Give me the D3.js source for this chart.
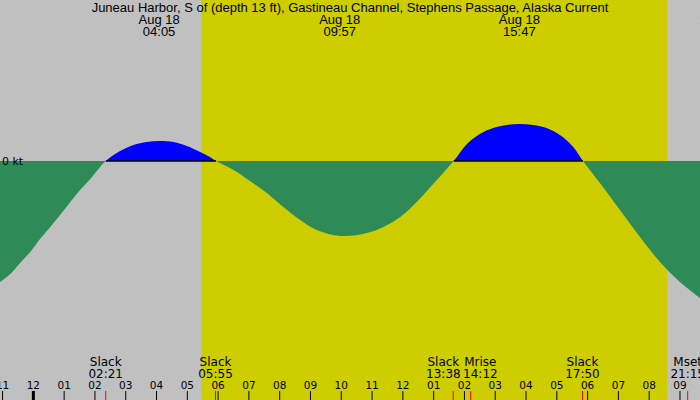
<!DOCTYPE html>
<html>
<head>
<meta charset="utf-8">
<script src="https://cdn.jsdelivr.net/npm/d3@7"></script>
<style>
  body { margin: 0; background: #fff; }
  svg { display: block; }
</style>
</head>
<body>
<div id="chart"></div>
<script>
// station and day
var stationName = "Juneau Harbor, S of (depth 13 ft), Gastineau Channel, Stephens Passage, Alaska Current";
var dayLabel = "Aug 18";

// current curve samples (knots, + = flood)
var curveTimes = [
  "08-17 22:55", "08-17 23:15", "08-17 23:34", "08-17 23:54", "08-18 00:13", "08-18 00:33",
  "08-18 00:52", "08-18 01:12", "08-18 01:31", "08-18 01:51", "08-18 02:10", "08-18 02:21",
  "08-18 02:49", "08-18 03:15", "08-18 03:41", "08-18 04:05", "08-18 04:33", "08-18 04:59",
  "08-18 05:25", "08-18 05:44", "08-18 05:56", "08-18 06:30", "08-18 07:02", "08-18 07:35",
  "08-18 08:07", "08-18 08:40", "08-18 09:12", "08-18 09:59", "08-18 10:50", "08-18 11:22",
  "08-18 11:55", "08-18 12:27", "08-18 12:59", "08-18 13:39", "08-18 14:05", "08-18 14:30",
  "08-18 14:56", "08-18 15:23", "08-18 15:47", "08-18 16:14", "08-18 16:40", "08-18 17:06",
  "08-18 17:32", "08-18 17:51", "08-18 18:24", "08-18 19:03", "08-18 19:42", "08-18 20:21",
  "08-18 21:00", "08-18 21:39"];
var curveKnots = [
  -1.21, -1.13, -1.02, -0.91, -0.78, -0.66,
  -0.54, -0.41, -0.29, -0.18, -0.06, 0,
  0.10, 0.16, 0.19, 0.20, 0.19, 0.15,
  0.09, 0.04, 0, -0.09, -0.20, -0.32,
  -0.46, -0.59, -0.69, -0.75, -0.72, -0.66,
  -0.56, -0.41, -0.23, 0, 0.17, 0.27,
  0.33, 0.36, 0.37, 0.36, 0.33, 0.26,
  0.14, 0, -0.22, -0.49, -0.76, -1.01,
  -1.21, -1.37];

// max / min current times shown at the top
var peakTimes = ["08-18 04:05", "08-18 09:57", "08-18 15:47", "08-18 22:19"];
var peakLabels = ["04:05", "09:57", "15:47", "22:19"];

// slack and moon events shown at the bottom
var eventNames = ["Slack", "Slack", "Slack", "Mrise", "Slack", "Mset"];
var eventTimes = ["08-18 02:21", "08-18 05:55", "08-18 13:38", "08-18 14:12", "08-18 17:50", "08-18 21:15"];
var eventLabels = ["02:21", "05:55", "13:38", "14:12", "17:50", "21:15"];

// daylight
var sunrise = "08-18 05:27";
var sunset = "08-18 20:35";
var axisStart = "08-17 22:55";
var axisEnd = "08-18 21:39";

var svgWidth = 700;
var svgHeight = 400;

var parseTime = d3.timeParse("%m-%d %H:%M");

var curveData = curveTimes.map(function(t, i) {
  return { time: parseTime(t), kt: curveKnots[i] };
});

var svg = d3.select("#chart")
  .append("svg")
  .attr("width", svgWidth)
  .attr("height", svgHeight);

var xTimeScale = d3.scaleTime()
  .domain([parseTime(axisStart), parseTime(axisEnd)])
  .range([0, svgWidth]);

var yLinearScale = d3.scaleLinear()
  .domain([0, 1])
  .range([161, 61]);

var zeroY = yLinearScale(0);

// night background, daylight band
svg.append("rect")
  .attr("width", svgWidth)
  .attr("height", svgHeight)
  .attr("fill", "#c0c0c0");

svg.append("rect")
  .attr("x", xTimeScale(parseTime(sunrise)))
  .attr("width", xTimeScale(parseTime(sunset)) - xTimeScale(parseTime(sunrise)))
  .attr("y", 0)
  .attr("height", svgHeight)
  .attr("fill", "#cdcd00");

// clip regions above / below zero
var defs = svg.append("defs");
defs.append("clipPath").attr("id", "above")
  .append("rect").attr("x", 0).attr("y", 0).attr("width", svgWidth).attr("height", zeroY);
defs.append("clipPath").attr("id", "below")
  .append("rect").attr("x", 0).attr("y", zeroY).attr("width", svgWidth).attr("height", svgHeight - zeroY);

var area = d3.area()
  .curve(d3.curveCatmullRom.alpha(0.5))
  .x(function(d) { return xTimeScale(d.time); })
  .y0(zeroY)
  .y1(function(d) { return yLinearScale(d.kt); });

svg.append("path")
  .datum(curveData)
  .attr("clip-path", "url(#below)")
  .attr("fill", "#2e8b57")
  .attr("d", area);

svg.append("path")
  .datum(curveData)
  .attr("clip-path", "url(#above)")
  .attr("fill", "#0000ff")
  .attr("d", area);

// black baseline under the flood parts
var baseLine = d3.line()
  .defined(function(d) { return d.kt >= 0; })
  .x(function(d) { return xTimeScale(d.time); })
  .y(zeroY);

svg.append("path")
  .datum(curveData)
  .attr("fill", "none")
  .attr("stroke", "#000")
  .attr("stroke-width", 1.5)
  .attr("d", baseLine);

svg.append("text")
  .attr("x", 2)
  .attr("y", zeroY + 4)
  .attr("font-family", "DejaVu Sans")
  .attr("font-size", 11)
  .text("0 kt");

// header
var headerFont = "Liberation Sans";
svg.append("text")
  .attr("x", svgWidth / 2)
  .attr("y", 12)
  .attr("text-anchor", "middle")
  .attr("font-family", headerFont)
  .attr("font-size", 13)
  .text(stationName);

peakTimes.forEach(function(t, i) {
  var x = xTimeScale(parseTime(t));
  svg.append("text")
    .attr("x", x).attr("y", 24)
    .attr("text-anchor", "middle")
    .attr("font-family", headerFont)
    .attr("font-size", 13)
    .text(dayLabel);
  svg.append("text")
    .attr("x", x).attr("y", 36)
    .attr("text-anchor", "middle")
    .attr("font-family", headerFont)
    .attr("font-size", 13)
    .text(peakLabels[i]);
});

// hour ticks along the bottom
var hours = xTimeScale.ticks(d3.timeHour.every(1));
var hourFormat = d3.timeFormat("%I");

svg.selectAll(".hour-tick")
  .data(hours)
  .enter()
  .append("line")
  .attr("class", "hour-tick")
  .attr("x1", function(d) { return xTimeScale(d); })
  .attr("x2", function(d) { return xTimeScale(d); })
  .attr("y1", 391)
  .attr("y2", 400)
  .attr("stroke", "#000")
  .attr("stroke-width", function(d) { return d.getHours() === 0 ? 3 : 1; });

svg.selectAll(".hour-label")
  .data(hours)
  .enter()
  .append("text")
  .attr("class", "hour-label")
  .attr("x", function(d) { return xTimeScale(d); })
  .attr("y", 389)
  .attr("text-anchor", "middle")
  .attr("font-family", "DejaVu Sans")
  .attr("font-size", 10.5)
  .text(function(d) { return hourFormat(d); });

// event ticks and labels, labels pushed apart when they collide
var events = eventTimes.map(function(t, i) {
  var x = xTimeScale(parseTime(t));
  return { x: x, lx: x, name: eventNames[i], label: eventLabels[i], w: 34 };
});
for (var i = 1; i < events.length; i++) {
  var a = events[i - 1], b = events[i];
  var need = (a.w + b.w) / 2 + 3;
  if (b.lx - a.lx < need) {
    var push = (need - (b.lx - a.lx)) / 2;
    a.lx -= push;
    b.lx += push;
  }
}

svg.selectAll(".event-tick")
  .data(events)
  .enter()
  .append("line")
  .attr("class", "event-tick")
  .attr("x1", function(d) { return d.x; })
  .attr("x2", function(d) { return d.x; })
  .attr("y1", 391)
  .attr("y2", 400)
  .attr("stroke", "#ff0000")
  .attr("stroke-width", 1);

events.forEach(function(d) {
  svg.append("text")
    .attr("x", d.lx).attr("y", 366)
    .attr("text-anchor", "middle")
    .attr("font-family", "DejaVu Sans")
    .attr("font-size", 12)
    .text(d.name);
  svg.append("text")
    .attr("x", d.lx).attr("y", 378)
    .attr("text-anchor", "middle")
    .attr("font-family", "DejaVu Sans")
    .attr("font-size", 12)
    .text(d.label);
});
</script>
</body>
</html>
